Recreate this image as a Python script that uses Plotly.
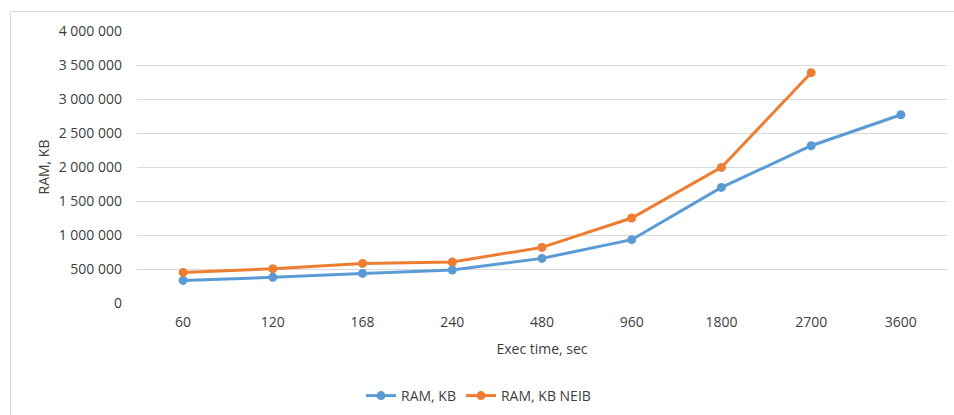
import plotly.graph_objects as go

categories = ["60", "120", "168", "240", "480", "960", "1800", "2700", "3600"]
ram_kb = [332000, 377000, 435000, 485000, 656000, 931000, 1700000, 2313000, 2769000]
ram_kb_neib = [450000, 504000, 582000, 603000, 818000, 1250000, 1994000, 3387000, None]
y_ticks = [0, 500000, 1000000, 1500000, 2000000, 2500000, 3000000, 3500000, 4000000]

font_family = "Open Sans, Liberation Sans, sans-serif"
txt = "#404040"

fig = go.Figure()
fig.add_trace(go.Scatter(x=categories, y=ram_kb, name="RAM, KB", mode="lines+markers",
                         line=dict(color="#5B9BD5", width=3), marker=dict(size=9, color="#5B9BD5")))
fig.add_trace(go.Scatter(x=categories, y=ram_kb_neib, name="RAM, KB NEIB", mode="lines+markers",
                         line=dict(color="#ED7D31", width=3), marker=dict(size=9, color="#ED7D31")))

# plot area: x 137..947 px, y 31..303 px
def px(xp):
    return (xp - 137) / 810

def py(yp):
    return (303 - yp) / 272

fig.update_layout(
    width=954, height=415,
    margin=dict(l=137, r=7, t=31, b=112, autoexpand=False),
    paper_bgcolor="white", plot_bgcolor="white",
    separators=", ",
    font=dict(family=font_family, size=13, color=txt),
    showlegend=True,
    legend=dict(orientation="h", x=px(361), xanchor="left", y=py(396), yanchor="middle",
                font=dict(size=14, color=txt)),
    xaxis=dict(type="category", showgrid=False, zeroline=False, showline=False,
               ticks="", ticklabelstandoff=9, automargin=False,
               tickfont=dict(size=14, color=txt),
               title=dict(text="Exec time, sec", font=dict(size=14, color=txt), standoff=14)),
    yaxis=dict(range=[0, 4000000], tickvals=y_ticks, tickformat=",d", automargin=False,
               showgrid=True, gridcolor="#D9D9D9", gridwidth=1, zeroline=False, showline=False,
               ticks="", ticklabelstandoff=14, tickfont=dict(size=14, color=txt),
               title=dict(text="RAM, KB", font=dict(size=14, color=txt), standoff=5)),
    shapes=[dict(type="rect", xref="paper", yref="paper",
                 x0=px(10.5), x1=px(965), y0=py(420), y1=py(11.5),
                 line=dict(color="#D9D9D9", width=1), layer="below")],
)
fig.write_html("out.html")
